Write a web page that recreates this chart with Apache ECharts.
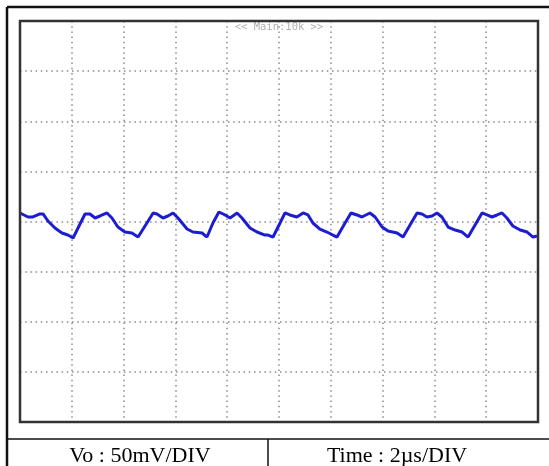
<!DOCTYPE html>
<html>
<head>
<meta charset="utf-8">
<script src="https://cdn.jsdelivr.net/npm/echarts@6/dist/echarts.min.js"></script>
<style>
html,body{margin:0;padding:0;background:#fff;}
#c{width:549px;height:466px;}
</style>
</head>
<body>
<div id="c"></div>
<script>
// Time axis (µs), 2 µs/DIV, 10 divisions
var timeUs = [
  0.00,0.31,0.50,0.77,0.89,1.08,1.35,1.62,1.85,2.05,
  2.24,2.51,2.70,2.90,3.09,3.36,3.55,3.78,4.05,4.32,4.56,4.63,
  4.90,5.14,5.29,5.52,5.71,5.91,6.10,6.45,6.68,7.03,7.22,
  7.45,7.68,7.92,8.11,8.38,8.57,8.88,9.15,9.46,9.58,9.77,
  10.04,10.23,10.42,10.69,10.93,11.12,11.31,11.58,11.85,12.08,12.24,
  12.55,12.78,13.01,13.20,13.51,13.71,13.98,14.21,14.56,14.79,
  15.06,15.33,15.52,15.71,15.91,16.10,16.29,16.53,16.80,17.07,17.30,
  17.57,17.84,18.03,18.22,18.42,18.61,18.80,19.03,19.31,19.58,19.81,19.96
];
// Output ripple Vo (mV), 50 mV/DIV, centred on screen
var voltsMv = [
  8.5,4.5,4.5,7.5,7.5,0.5,-6.5,-11.5,-13.5,-16.5,
  -6.5,7.5,7.5,3.5,5.5,8.5,3.5,-5.5,-10.5,-11.5,-15.5,-16,
  -1.5,8.5,7.5,3.5,5.5,8.5,3.5,-7.5,-10.5,-11.5,-15.5,
  -1.5,9.5,6.5,3.5,8.5,3.5,-6.5,-10.5,-13.5,-13.5,-15.5,
  -1.5,8.5,6.5,4.5,8.5,6.5,-1.5,-7.5,-10.5,-13.5,-15.5,
  -1.5,8.5,6.5,4.5,8.5,4.5,-5.5,-9.5,-11.5,-15.5,
  -3.5,8.5,7.5,4.5,5.5,8.5,4.5,-5.5,-8.5,-10.5,-15.5,
  -3.5,8.5,6.5,4.5,6.5,8.5,3.5,-4.5,-8.5,-10.5,-15.5,-14.5
];
var topLabel = '<< Main:10k >>';
var voltLabel = 'Vo : 50mV/DIV';
var timeLabel = 'Time : 2\u00b5s/DIV';

var pts = timeUs.map(function(t, i){ return [t, voltsMv[i]]; });

var chart = echarts.init(document.getElementById('c'), null, {renderer:'canvas'});
var gridLine = {show:true, lineStyle:{color:'#8a8a8a', width:1.5, type:[1.5,3.7]}};
chart.setOption({
  animation:false,
  backgroundColor:'#fff',
  grid:{left:20, top:21, width:518, height:401, show:false},
  xAxis:{type:'value', min:0, max:20, interval:2, axisLine:{show:false}, axisTick:{show:false}, axisLabel:{show:false}, splitLine:gridLine},
  yAxis:{type:'value', min:-200, max:200, interval:50, axisLine:{show:false}, axisTick:{show:false}, axisLabel:{show:false}, splitLine:gridLine},
  series:[{
    type:'line', data:pts, showSymbol:false, symbol:'none', smooth:false,
    lineStyle:{color:'#1c1cd2', width:3}, z:5
  }],
  graphic:[
    {type:'rect', shape:{x:20, y:21, width:518, height:401}, style:{fill:null, stroke:'#333', lineWidth:2.5}, z:100},
    {type:'line', shape:{x1:7, y1:7, x2:549, y2:7}, style:{stroke:'#111', lineWidth:2.5}},
    {type:'line', shape:{x1:7, y1:7, x2:7, y2:466}, style:{stroke:'#111', lineWidth:2.5}},
    {type:'line', shape:{x1:7, y1:439, x2:549, y2:439}, style:{stroke:'#111', lineWidth:1.5}},
    {type:'line', shape:{x1:268, y1:439, x2:268, y2:466}, style:{stroke:'#111', lineWidth:1.5}},
    {type:'text', x:279, y:27, style:{text:topLabel, fill:'#b0b0b0', font:'10.5px "DejaVu Sans Mono", monospace', textAlign:'center', textVerticalAlign:'middle'}},
    {type:'text', x:140, y:456, style:{text:voltLabel, fill:'#000', font:'22px "Liberation Serif", serif', textAlign:'center', textVerticalAlign:'middle'}},
    {type:'text', x:397, y:456, style:{text:timeLabel, fill:'#000', font:'22px "Liberation Serif", serif', textAlign:'center', textVerticalAlign:'middle'}}
  ]
});
</script>
</body>
</html>
